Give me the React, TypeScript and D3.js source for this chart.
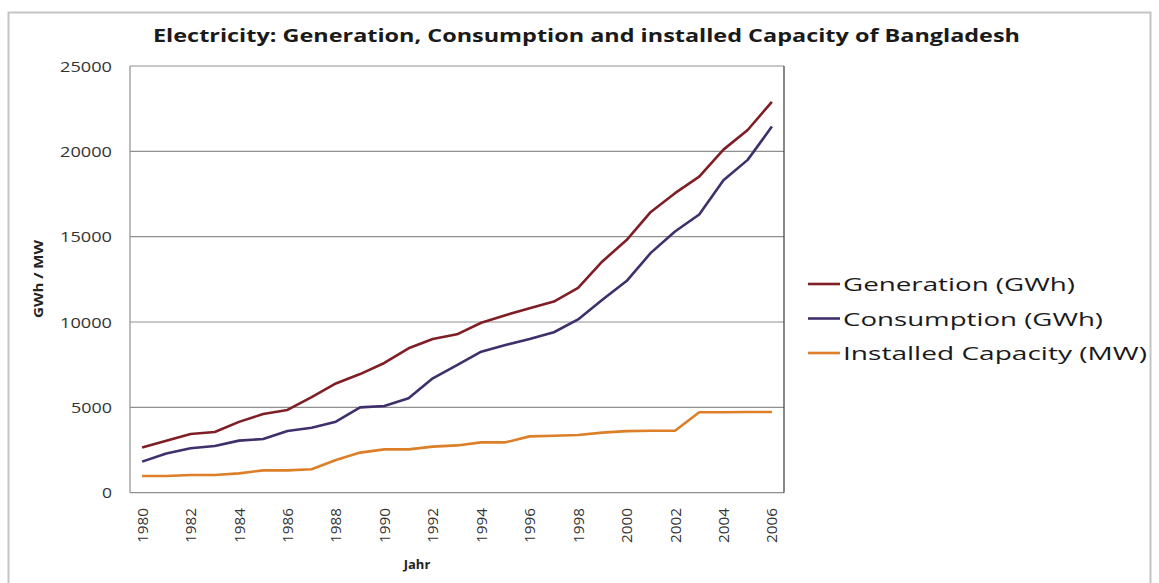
import React from "react";
import * as d3 from "d3";

const years = d3.range(1980, 2007).map(String);

const generation = [
  2650, 3050, 3440, 3560, 4150, 4610, 4850, 5600, 6400, 6950, 7600, 8460, 9000,
  9280, 9960, 10400, 10800, 11200, 12000, 13550, 14800, 16450, 17550, 18520,
  20100, 21250, 22900,
];

const consumption = [
  1820, 2300, 2600, 2740, 3050, 3150, 3620, 3810, 4160, 5000, 5080, 5530, 6700,
  7480, 8260, 8650, 9000, 9400, 10150, 11300, 12400, 14050, 15300, 16300, 18300,
  19500, 21450,
];

const capacity = [
  980, 980, 1040, 1040, 1130, 1310, 1310, 1370, 1920, 2350, 2540, 2540, 2700,
  2770, 2950, 2950, 3300, 3340, 3380, 3520, 3610, 3630, 3630, 4710, 4710, 4730,
  4730,
];

const yTicks = [0, 5000, 10000, 15000, 20000, 25000];

const seriesNames = [
  "Generation (GWh)",
  "Consumption (GWh)",
  "Installed Capacity (MW)",
];
const seriesColors = ["#7f1f25", "#3f2f6b", "#dc7f28"];
const seriesData = [generation, consumption, capacity];

const W = 1159;
const H = 583;
const plot = { left: 130, top: 66, right: 784, bottom: 492.7 };

export default function App() {
  const x = d3
    .scaleBand<string>()
    .domain(years)
    .range([plot.left, plot.right])
    .paddingInner(0)
    .paddingOuter(0);
  const y = d3.scaleLinear().domain([0, 25000]).range([plot.bottom, plot.top]);
  const line = d3
    .line<number>()
    .x((_, i) => (x(years[i]) as number) + x.bandwidth() / 2)
    .y((d) => y(d));

  const font = "'Open Sans', 'DejaVu Sans', sans-serif";
  const legendTextWidths = [232, 260, 304];

  return (
    <svg
      width={W}
      height={H}
      style={{ position: "absolute", left: 0, top: 0, background: "#fff" }}
      fontFamily={font}
    >
      <rect x={8.5} y={12.5} width={1142} height={600} fill="#fff" stroke="#c4c4c4" strokeWidth={2} />

      <text
        x={153}
        y={42}
        fontSize={17}
        fontWeight="bold"
        fill="#1a1a1a"
        textLength={867}
        lengthAdjust="spacingAndGlyphs"
      >
        Electricity: Generation, Consumption and installed Capacity of Bangladesh
      </text>

      {/* horizontal gridlines */}
      {yTicks.map((t) => (
        <line
          key={t}
          x1={plot.left}
          x2={plot.right}
          y1={y(t)}
          y2={y(t)}
          stroke="#8f8f8f"
          strokeWidth={1.2}
        />
      ))}
      {/* plot frame */}
      <line x1={plot.left} x2={plot.left} y1={plot.top} y2={plot.bottom} stroke="#8f8f8f" strokeWidth={1.2} />
      <line x1={plot.right} x2={plot.right} y1={plot.top} y2={plot.bottom} stroke="#3a3a3a" strokeWidth={1.2} />

      {/* y tick labels */}
      {yTicks.map((t) => (
        <text
          key={t}
          x={112}
          y={y(t) + 5.5}
          fontSize={15}
          textAnchor="end"
          fill="#333"
          textLength={t === 0 ? 10 : t < 10000 ? 41 : 52}
          lengthAdjust="spacingAndGlyphs"
        >
          {t}
        </text>
      ))}

      {/* x tick labels, every other year */}
      {years
        .filter((_, i) => i % 2 === 0)
        .map((yr) => {
          const cx = (x(yr) as number) + x.bandwidth() / 2;
          return (
            <text
              key={yr}
              transform={`translate(${cx + 5.5},${508}) rotate(-90)`}
              fontSize={15}
              textAnchor="end"
              fill="#333"
              textLength={35}
              lengthAdjust="spacingAndGlyphs"
            >
              {yr}
            </text>
          );
        })}

      {/* axis titles */}
      <text
        transform={`translate(43,279) rotate(-90)`}
        fontSize={13}
        fontWeight="bold"
        textAnchor="middle"
        fill="#222"
        textLength={78}
        lengthAdjust="spacingAndGlyphs"
      >
        GWh / MW
      </text>
      <text x={417} y={569} fontSize={13} fontWeight="bold" textAnchor="middle" fill="#222">
        Jahr
      </text>

      {/* series lines */}
      {seriesData.map((d, i) => (
        <path
          key={seriesNames[i]}
          d={line(d) ?? ""}
          fill="none"
          stroke={seriesColors[i]}
          strokeWidth={2.6}
          strokeLinejoin="round"
        />
      ))}

      {/* legend */}
      {seriesNames.map((name, i) => {
        const ly = 284 + i * 34.5;
        return (
          <g key={name}>
            <line x1={808} x2={840} y1={ly} y2={ly} stroke={seriesColors[i]} strokeWidth={2.6} />
            <text
              x={843}
              y={ly + 7}
              fontSize={19}
              fill="#1a1a1a"
              textLength={legendTextWidths[i]}
              lengthAdjust="spacingAndGlyphs"
            >
              {name}
            </text>
          </g>
        );
      })}
    </svg>
  );
}
